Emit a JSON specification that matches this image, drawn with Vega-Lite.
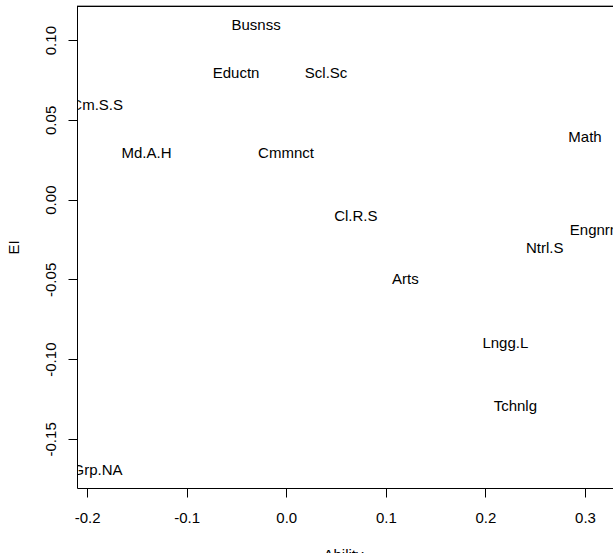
{
  "$schema": "https://vega.github.io/schema/vega-lite/v6.json",
  "width": 536,
  "height": 482,
  "autosize": {"type": "none"},
  "padding": {"left": 77, "top": 6, "right": 0, "bottom": 65},
  "background": "white",
  "config": {
    "view": {"stroke": null},
    "font": "Liberation Sans",
    "axis": {
      "domainColor": "black",
      "domainWidth": 1,
      "tickColor": "black",
      "tickWidth": 1,
      "tickSize": 9,
      "grid": false,
      "labelFont": "Liberation Sans",
      "labelFontSize": 15,
      "labelColor": "black",
      "titleFont": "Liberation Sans",
      "titleFontSize": 15,
      "titleFontWeight": "normal",
      "titleColor": "black",
      "labelFlush": false,
      "labelOverlap": false,
      "labelBound": false
    }
  },
  "data": {
    "values": [
      {"label": "Busnss", "Ability": -0.0303, "EI": 0.1095},
      {"label": "Eductn", "Ability": -0.0504, "EI": 0.0796},
      {"label": "Scl.Sc", "Ability": 0.0400, "EI": 0.0796},
      {"label": "Cm.S.S", "Ability": -0.1898, "EI": 0.0592},
      {"label": "Md.A.H", "Ability": -0.1403, "EI": 0.0295},
      {"label": "Cmmnct", "Ability": -0.0002, "EI": 0.0295},
      {"label": "Math", "Ability": 0.3000, "EI": 0.0395},
      {"label": "Cl.R.S", "Ability": 0.0699, "EI": -0.0102},
      {"label": "Engnrn", "Ability": 0.3090, "EI": -0.0193},
      {"label": "Ntrl.S", "Ability": 0.2595, "EI": -0.0301},
      {"label": "Arts", "Ability": 0.1196, "EI": -0.0500},
      {"label": "Lngg.L", "Ability": 0.2200, "EI": -0.0900},
      {"label": "Tchnlg", "Ability": 0.2300, "EI": -0.1294},
      {"label": "Grp.NA", "Ability": -0.1894, "EI": -0.1695}
    ]
  },
  "layer": [
    {
      "mark": {"type": "text", "clip": true, "fontSize": 15, "font": "Liberation Sans", "color": "black", "align": "center", "baseline": "middle"},
      "encoding": {
        "x": {
          "field": "Ability", "type": "quantitative",
          "scale": {"domain": [-0.2101, 0.3281], "nice": false, "zero": false},
          "axis": {
            "orient": "bottom",
            "values": [-0.2, -0.1, 0.0, 0.1, 0.2, 0.3],
            "labelExpr": "replace(format(datum.value, '.1f'), '\u2212', '-')",
            "labelBaseline": "top",
            "labelPadding": 13,
            "title": "Ability",
            "titleX": 266,
            "titleY": 59,
            "titleAlign": "center",
            "titleBaseline": "top"
          }
        },
        "y": {
          "field": "EI", "type": "quantitative",
          "scale": {"domain": [-0.1808, 0.1214], "nice": false, "zero": false},
          "axis": {
            "values": [-0.15, -0.1, -0.05, 0.0, 0.05, 0.1],
            "labelExpr": "replace(format(datum.value, '.2f'), '\u2212', '-')",
            "labelAngle": 270,
            "labelAlign": "center",
            "labelBaseline": "alphabetic",
            "labelPadding": 13,
            "title": "EI",
            "titleAngle": 270,
            "titleX": -59,
            "titleY": 241,
            "titleAlign": "center",
            "titleBaseline": "alphabetic"
          }
        },
        "text": {"field": "label", "type": "nominal"}
      }
    },
    {
      "mark": {"type": "rule", "color": "black", "strokeWidth": 1},
      "encoding": {
        "y": {"datum": 0.1211, "type": "quantitative"}
      }
    }
  ]
}
